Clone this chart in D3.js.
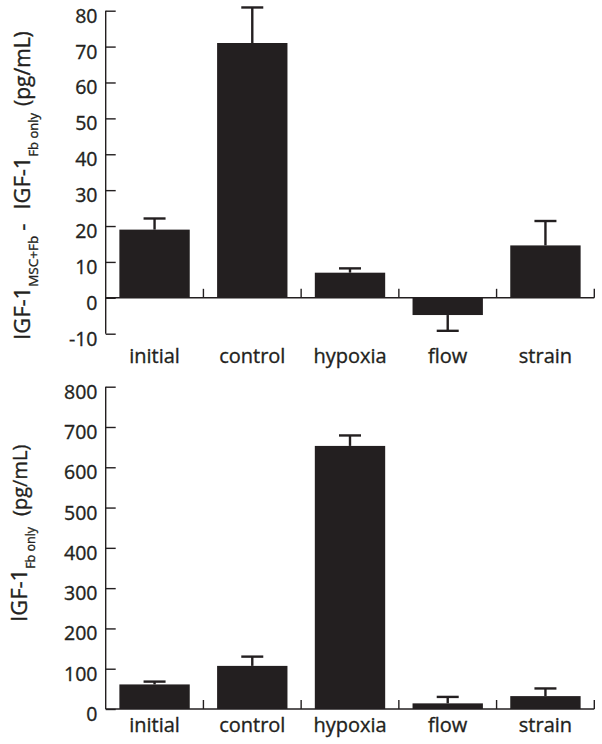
<!DOCTYPE html>
<html>
<head>
<meta charset="utf-8">
<script src="https://cdn.jsdelivr.net/npm/d3@7/dist/d3.min.js"></script>
<style>
  html, body { margin: 0; padding: 0; background: #fff; }
  svg { display: block; }
  text { font-family: "Open Sans", "DejaVu Sans", sans-serif; fill: #231f20; stroke: #231f20; stroke-width: 0.35px; }
</style>
</head>
<body>
<svg id="chart" width="602" height="744"></svg>
<script>
const categories = ["initial", "control", "hypoxia", "flow", "strain"];
const topValues = [19, 71, 7, -4.8, 14.6];
const topErrors = [3.1, 9.9, 1.2, 4.4, 6.8];
const topTicks = [-10, 0, 10, 20, 30, 40, 50, 60, 70, 80];
const bottomValues = [61, 107, 653, 14, 32];
const bottomErrors = [7, 23, 26, 16, 19];
const bottomTicks = [0, 100, 200, 300, 400, 500, 600, 700, 800];

const ink = "#231f20";
const svg = d3.select("#chart");

function panel(opts) {
  const g = svg.append("g");
  const x = d3.scaleBand().domain(categories).range([105.7, 594.3])
    .paddingInner(0.28).paddingOuter(0.14);
  const xSep = d3.scaleBand().domain(categories).range([105.7, 594.3]).padding(0);
  const y = d3.scaleLinear().domain(opts.domain).range(opts.range);

  // y axis
  const yAxis = d3.axisRight(y).tickValues(opts.ticks).tickSize(10).tickFormat(d3.format("d"));
  const ya = g.append("g").attr("transform", "translate(105.7,0)").call(yAxis);
  ya.select(".domain").attr("d", `M0,${y(opts.domain[0])}V${y(opts.domain[1])}`)
    .attr("stroke", ink).attr("stroke-width", 1.4);
  ya.selectAll(".tick line").attr("stroke", ink).attr("stroke-width", 1.4);
  ya.selectAll(".tick text").remove();
  g.selectAll(".ylab").data(opts.ticks).join("text")
    .attr("class", "ylab")
    .attr("x", 97.5)
    .attr("y", d => y(d) + 4.5)
    .attr("text-anchor", "end")
    .attr("dominant-baseline", "central")
    .attr("font-size", 19.5)
    .text(d => d);

  // bars
  g.selectAll(".bar").data(categories).join("rect")
    .attr("class", "bar")
    .attr("x", d => x(d))
    .attr("width", x.bandwidth())
    .attr("y", (d, i) => Math.min(y(opts.values[i]), y(0)))
    .attr("height", (d, i) => Math.abs(y(opts.values[i]) - y(0)))
    .attr("fill", ink);

  // error bars
  const cx = d => x(d) + x.bandwidth() / 2;
  const tip = i => opts.values[i] >= 0 ? opts.values[i] + opts.errors[i] : opts.values[i] - opts.errors[i];
  g.selectAll(".err").data(categories).join("line")
    .attr("class", "err")
    .attr("x1", cx).attr("x2", cx)
    .attr("y1", (d, i) => y(opts.values[i]))
    .attr("y2", (d, i) => y(tip(i)))
    .attr("stroke", ink).attr("stroke-width", 2.4);
  g.selectAll(".cap").data(categories).join("line")
    .attr("class", "cap")
    .attr("x1", d => cx(d) - 11).attr("x2", d => cx(d) + 11)
    .attr("y1", (d, i) => y(tip(i)))
    .attr("y2", (d, i) => y(tip(i)))
    .attr("stroke", ink).attr("stroke-width", 2.4);

  // x axis line at zero
  g.append("line")
    .attr("x1", 105.7).attr("x2", 594.3)
    .attr("y1", y(0)).attr("y2", y(0))
    .attr("stroke", ink).attr("stroke-width", 1.4);
  g.selectAll(".sep").data(categories).join("line")
    .attr("class", "sep")
    .attr("x1", d => xSep(d) + xSep.bandwidth())
    .attr("x2", d => xSep(d) + xSep.bandwidth())
    .attr("y1", y(0)).attr("y2", y(0) - 9)
    .attr("stroke", ink).attr("stroke-width", 1.4);

  // category labels
  g.selectAll(".xlab").data(categories).join("text")
    .attr("class", "xlab")
    .attr("x", d => cx(d))
    .attr("y", opts.labelY)
    .attr("text-anchor", "middle")
    .attr("font-size", 20)
    .text(d => d);

  // y title
  const t = g.append("text")
    .attr("transform", `translate(${opts.titleX},${opts.titleY}) rotate(-90)`)
    .attr("font-size", 22);
  opts.title.forEach(part => {
    const ts = t.append("tspan").text(part.t);
    if (part.sub) ts.attr("dy", 8);
    if (part.up) ts.attr("dy", -8);
    if (part.dx) ts.attr("dx", part.dx);
    if (part.fs) ts.attr("font-size", part.fs);
  });
}

panel({
  domain: [-10, 80], range: [333.7, 10.7], ticks: topTicks,
  values: topValues, errors: topErrors, labelY: 363,
  titleX: 30, titleY: 340,
  title: [
    {t: "IGF-1"}, {t: "MSC+Fb", sub: true, fs: 13.5},
    {t: "-", up: true, dx: 5, fs: 22}, {t: "IGF-1", dx: 14},
    {t: "Fb only", sub: true, fs: 13}, {t: "(pg/mL)", up: true, dx: 7, fs: 21}
  ]
});

panel({
  domain: [0, 800], range: [709, 386.7], ticks: bottomTicks,
  values: bottomValues, errors: bottomErrors, labelY: 731.7,
  titleX: 27, titleY: 622,
  title: [
    {t: "IGF-1"}, {t: "Fb only", sub: true, fs: 12.5},
    {t: "(pg/mL)", up: true, dx: 11, fs: 20}
  ]
});
</script>
</body>
</html>
